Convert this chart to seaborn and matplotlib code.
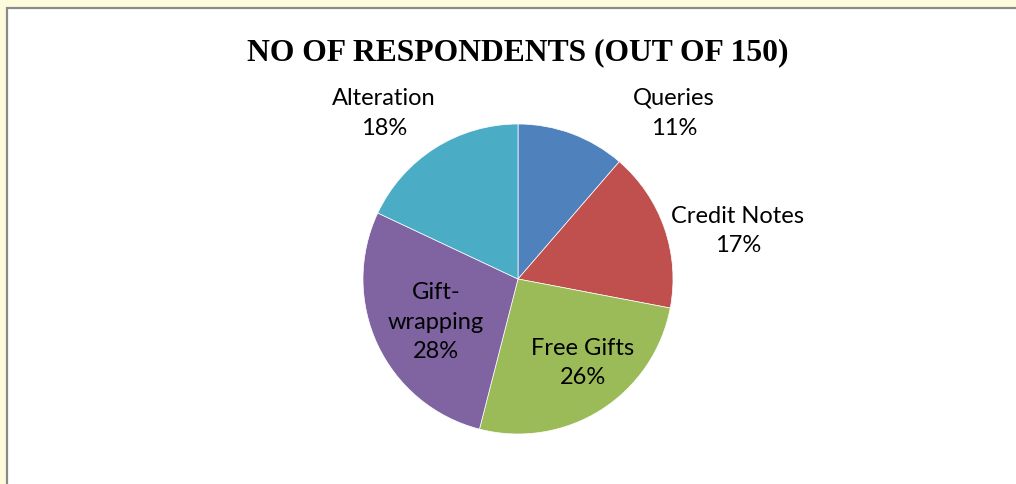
import matplotlib
matplotlib.use("Agg")
import matplotlib.pyplot as plt
import seaborn as sns
from matplotlib.patches import Rectangle

sns.set_theme(style="white")
plt.rcParams['font.family'] = ['Lato', 'DejaVu Sans']

# Data
categories = ["Queries", "Credit Notes", "Free Gifts", "Gift-\nwrapping", "Alteration"]
respondents = [17, 25, 39, 42, 27]
title = "NO OF RESPONDENTS (OUT OF 150)"

colors = ["#4F81BD", "#C0504D", "#9BBB59", "#8064A2", "#4BACC6"]
palette = sns.color_palette(colors)

# label positions (layout), in pie radius units
label_pos = [(1.006, 1.075), (1.419, 0.316), (0.419, -0.535), (-0.529, -0.271), (-0.865, 1.075)]

W, H = 1016, 485
fig = plt.figure(figsize=(W / 100, H / 100), dpi=100)
fig.patch.set_facecolor("#FEFBDD")

# white chart area with gray border
fig.patches.append(Rectangle((7 / W, -0.05), 1.1, (H - 9) / H + 0.05,
                             transform=fig.transFigure, facecolor="white",
                             edgecolor="#8A8A8A", linewidth=1.6, zorder=-5))

cx, cy, r = 518, 280, 155
ax = fig.add_axes([(cx - r) / W, (H - cy - r) / H, 2 * r / W, 2 * r / H])
ax.set_facecolor("none")
ax.set_zorder(5)

total = sum(respondents)
labels = [f"{c}\n{round(v / total * 100)}%" for c, v in zip(categories, respondents)]

wedges, texts = ax.pie(respondents, labels=labels, colors=palette, startangle=90,
                       counterclock=False, radius=1.0,
                       wedgeprops=dict(edgecolor="white", linewidth=0.5),
                       textprops=dict(fontsize=17, color="black", ha="center", va="center",
                                      linespacing=1.52))
for t, p in zip(texts, label_pos):
    t.set_position(p)
    t.set_ha("center")
    t.set_va("center")
    t.set_clip_on(False)
ax.set_xlim(-1, 1)
ax.set_ylim(-1, 1)
ax.axis("off")

fig.text(517.5 / W, 1 - 60 / H, title, ha="center", va="baseline",
         fontsize=22.8, fontweight="bold", family="Liberation Serif", color="black")

fig.savefig("out.png", dpi=100, facecolor=fig.get_facecolor())
